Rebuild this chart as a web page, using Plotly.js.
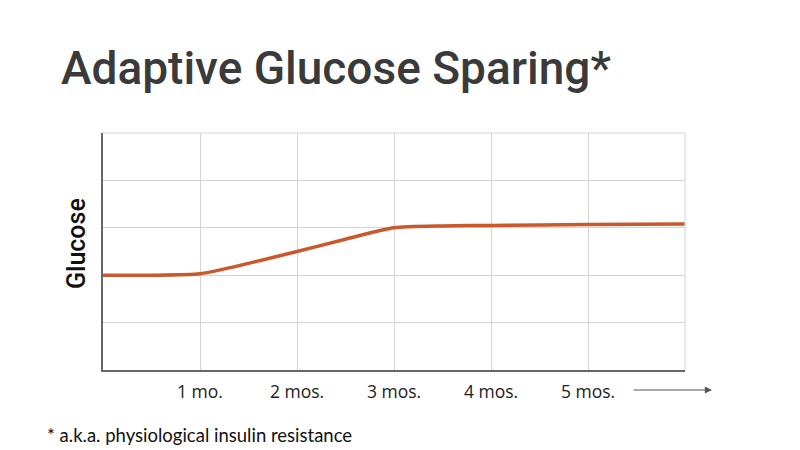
<!DOCTYPE html>
<html><head><meta charset="utf-8">
<script src="https://cdn.plot.ly/plotly-3.0.1.min.js"></script>
<style>html,body{margin:0;padding:0;background:#fff}</style>
</head><body><div id="chart" style="width:800px;height:450px"></div>
<script>
const months = [0, 0.5, 1, 1.5, 2, 2.5, 3, 3.5, 4, 5, 6];
const glucose = [2.0, 2.0, 2.03, 2.25, 2.5, 2.76, 3.0, 3.04, 3.05, 3.07, 3.08];
const tickVals = [1, 2, 3, 4, 5, 6];
const tickText = ['1 mo.', '2 mos.', '3 mos.', '4 mos.', '5 mos.', ''];
const titleText = 'Adaptive Glucose Sparing*';
const yTitle = 'Glucose';
const footnote = '* a.k.a. physiological insulin resistance';

const trace = {
  x: months, y: glucose, type: 'scatter', mode: 'lines',
  line: {color: '#C9582D', width: 3.5, shape: 'spline', smoothing: 0.6},
  hoverinfo: 'skip'
};
const layout = {
  width: 800, height: 450,
  margin: {l: 103, r: 115, t: 133, b: 80},
  paper_bgcolor: '#fff', plot_bgcolor: '#fff',
  showlegend: false,
  xaxis: {
    range: [0, 6], tickvals: tickVals, ticktext: tickText,
    showgrid: true, gridcolor: '#d4d4d4', gridwidth: 1,
    showline: true, linecolor: '#666', linewidth: 2,
    zeroline: false, ticks: '', ticklabelstandoff: 5,
    tickfont: {family: 'Open Sans', size: 17.5, color: '#222'},
    fixedrange: true
  },
  yaxis: {
    range: [0, 5], dtick: 1, tick0: 0,
    showgrid: true, gridcolor: '#d4d4d4', gridwidth: 1,
    showline: true, linecolor: '#666', linewidth: 2,
    zeroline: false, showticklabels: false, ticks: '',
    fixedrange: true
  },
  shapes: [
    {type: 'line', xref: 'paper', yref: 'paper', x0: 0, x1: 1, y0: 1, y1: 1, line: {color: '#d4d4d4', width: 1}},
    {type: 'line', xref: 'paper', yref: 'paper', x0: 1, x1: 1, y0: 0, y1: 1, line: {color: '#d4d4d4', width: 1}}
  ],
  annotations: [
    {text: titleText, xref: 'paper', yref: 'paper', x: (59-103)/582, y: (370-68)/237,
     xanchor: 'left', yanchor: 'middle', showarrow: false,
     font: {family: 'Roboto', size: 46, color: '#3a3a3a', weight: 500}},
    {text: yTitle, xref: 'paper', yref: 'paper', x: (76-103)/582, y: (370-244)/237,
     xanchor: 'center', yanchor: 'middle', showarrow: false, textangle: -90,
     font: {family: 'Roboto', size: 25, color: '#111', weight: 500}},
    {text: footnote, xref: 'paper', yref: 'paper', x: (45-103)/582, y: (370-435)/237,
     xanchor: 'left', yanchor: 'middle', showarrow: false,
     font: {family: 'Lato', size: 18.5, color: '#111'}},
    {text: '', xref: 'paper', yref: 'paper', x: (712-103)/582, y: (370-390)/237,
     ax: -80, ay: 0, showarrow: true, arrowhead: 2, arrowsize: 1.2, arrowwidth: 1.2, arrowcolor: '#555'}
  ]
};
Plotly.newPlot('chart', [trace], layout, {displayModeBar: false, staticPlot: true});
</script></body></html>
